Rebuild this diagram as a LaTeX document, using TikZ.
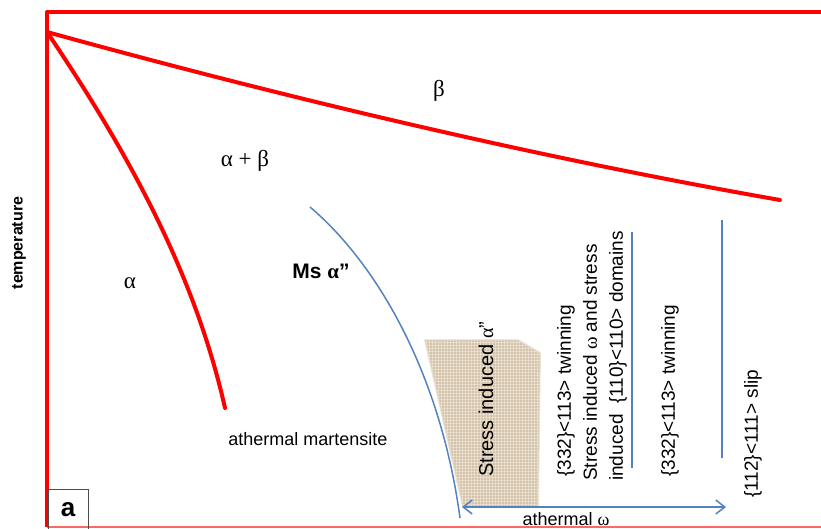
\documentclass[tikz,border=0pt]{standalone}
\usepackage{fontspec}
\setmainfont{Liberation Sans}
\newfontfamily\grk{Liberation Serif}
\usetikzlibrary{arrows.meta,patterns}
\definecolor{phasered}{RGB}{255,0,0}
\definecolor{lineblue}{RGB}{84,130,190}
\definecolor{beige}{RGB}{214,196,170}
\begin{document}
\begin{tikzpicture}[x=1pt,y=-1pt,
  redline/.style={phasered, line width=4pt, line join=round},
  blueline/.style={lineblue, line width=1.5pt},
  lbl/.style={font=\fontsize{18}{21}\selectfont, inner sep=0pt},
  vlbl/.style={font=\fontsize{19}{26}\selectfont, rotate=90, inner sep=0pt, align=left},
  grklbl/.style={font=\grk\fontsize{23}{26}\selectfont, inner sep=0pt},
  dblbarb/.style={arrows={Straight Barb[length=9pt,width=14pt]-Straight Barb[length=9pt,width=14pt]}}]
\useasboundingbox (0,0) rectangle (821,528);
% frame
\coordinate (tl) at (47,12);
\coordinate (tr) at (821,12);
\coordinate (bl) at (47,527);
\coordinate (br) at (821,527);
\coordinate (apex) at (47,32);
\draw[red!60, line width=1.5pt] (bl) -- (br);
\draw[redline] (bl) -- (tl) -- (tr);
% stress-induced region
\fill[beige] (425,340) -- (518,340) -- (540,353) -- (538,507) -- (463,507) -- cycle;
\fill[pattern=grid, pattern color=white, opacity=0.35] (425,340) -- (518,340) -- (540,353) -- (538,507) -- (463,507) -- cycle;
\draw[beige!70, line width=2pt, opacity=0.6] (425,340) -- (518,340) -- (540,353) -- (538,507) -- (463,507) -- cycle;
% phase boundaries
\coordinate (betaend) at (780,200);
\coordinate (alphaend) at (225,408);
\draw[redline, line cap=round] (apex) .. controls (290,99) and (540,158) .. (betaend);
\draw[redline, line cap=round] (apex) .. controls (130,155) and (195,275) .. (alphaend);
% Ms line
\coordinate (ms1) at (310,207);
\coordinate (ms2) at (460,518);
\draw[blueline] (ms1) .. controls (375,262) and (440,370) .. (ms2);
% athermal omega arrow
\coordinate (aL) at (462,507);
\coordinate (aR) at (726,507);
\draw[blueline, dblbarb] (aL) -- (aR);
\node[lbl] (athw) at (566,519) {athermal {\grk ω}};
% vertical separators
\coordinate (s1a) at (632,232);
\coordinate (s1b) at (632,468);
\coordinate (s2a) at (722,220);
\coordinate (s2b) at (722,458);
\draw[blueline] (s1a) -- (s1b);
\draw[blueline] (s2a) -- (s2b);
% vertical labels
\node[vlbl, font=\fontsize{20}{24}\selectfont, anchor=west] (sia) at (486,477) {Stress induced {\grk α}”};
\node[vlbl, anchor=west] (tw1) at (566,477) {\{332\}<113> twinning};
\node[vlbl, anchor=west] (siw) at (605,481) {Stress induced {\grk ω} and stress\\induced\ \ \{110\}<110> domains};
\node[vlbl, anchor=west] (tw2) at (670,477) {\{332\}<113> twinning};
\node[vlbl, anchor=west] (slip) at (753,498) {\{112\}<111> slip};
% phase labels
\node[grklbl] (beta) at (439,91) {β};
\node[grklbl] (ab) at (245,161) {α + β};
\node[grklbl] (alpha) at (130,283) {α};
\node[lbl, font=\bfseries\fontsize{21}{24}\selectfont] (ms) at (321,271) {Ms {\grk α}”};
\node[lbl] (am) at (308,439) {athermal martensite};
\node[lbl, font=\bfseries\fontsize{16}{19}\selectfont, rotate=90] (temp) at (19,243) {temperature};
% panel letter
\node[draw=gray!60!black, line width=1pt, minimum width=40pt, minimum height=42pt, inner sep=0pt,
      font=\bfseries\fontsize{26}{28}\selectfont] (panel) at (68,510) {a};
\end{tikzpicture}
\end{document}
